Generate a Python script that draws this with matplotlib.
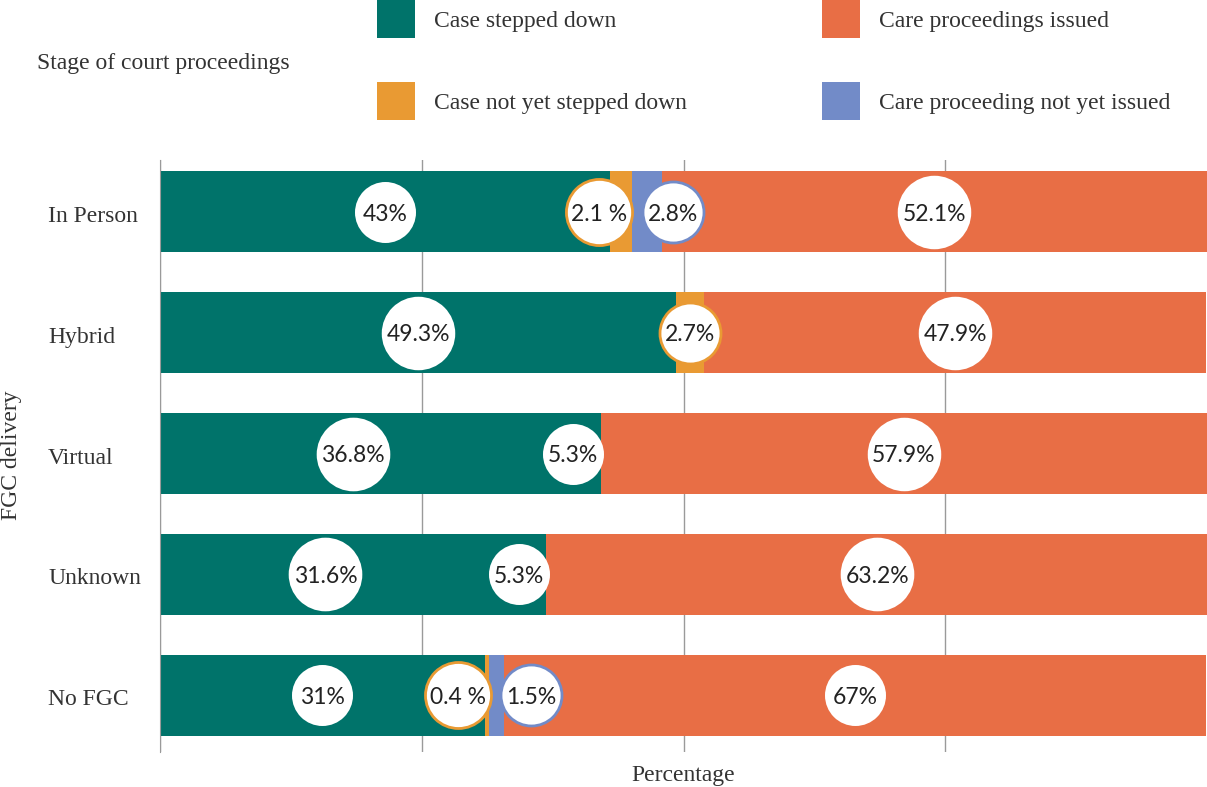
import matplotlib.pyplot as plt
from matplotlib.patches import Rectangle
from matplotlib.transforms import ScaledTranslation

# FGC delivery groups and the share of cases at each stage of court proceedings
groups = ["In Person", "Hybrid", "Virtual", "Unknown", "No FGC"]
stepped_down = [43, 49.3, 36.8, 31.6, 31]
stepped_down_extra = [0, 0, 5.3, 5.3, 0]
not_yet_stepped = [2.1, 2.7, 0, 0, 0.4]
not_yet_issued = [2.8, 0, 0, 0, 1.5]
issued = [52.1, 47.9, 57.9, 63.2, 67]
not_yet_stepped_sep = [" ", "", "", "", " "]

teal = "#00736A"
orange = "#E99A33"
blue = "#728BC8"
red = "#E86E45"
grid_c = "#9a9a9a"
txt_c = "#333333"
serif = "Liberation Serif"
sans = "Lato"
fs = 17

fig = plt.figure(figsize=(12.07, 7.87), dpi=100)
ax = fig.add_axes([160 / 1207, 35 / 787, 1047 / 1207, 592 / 787])

series = [
    (stepped_down, teal, None, None),
    (stepped_down_extra, teal, None, None),
    (not_yet_stepped, orange, orange, not_yet_stepped_sep),
    (not_yet_issued, blue, blue, None),
    (issued, red, None, None),
]

ypos = list(range(len(groups)))
left = [0.0] * len(groups)
labels = []
for vals, col, edge, seps in series:
    ax.barh(ypos, vals, left=left, height=0.67, color=col, linewidth=0, zorder=2)
    for i, v in enumerate(vals):
        if v > 0:
            sep = seps[i] if seps else ""
            labels.append([left[i] + v / 2, i, f"{v:g}{sep}%", edge, col])
    left = [l + v for l, v in zip(left, vals)]

# push apart labels of two neighbouring thin segments
for i in ypos:
    if not_yet_stepped[i] > 0 and not_yet_issued[i] > 0:
        start = stepped_down[i] + stepped_down_extra[i]
        mid = start + (not_yet_stepped[i] + not_yet_issued[i]) / 2
        for lab in labels:
            if lab[1] == i and lab[4] == orange:
                lab[0] = mid - 3.5
            elif lab[1] == i and lab[4] == blue:
                lab[0] = mid + 3.5

ax.set_xlim(0, 100)
ax.set_ylim(4.47, -0.43)

texts = []
for x, y, s, edge, col in labels:
    texts.append(ax.annotate(s, (x, y), xytext=(0, -1.5), textcoords="offset points",
                             ha="center", va="center", fontsize=16.5,
                             family=sans, color="#222222", zorder=5))

# white circle behind each label, sized to its text
fig.canvas.draw()
r = fig.canvas.get_renderer()
for t, (x, y, s, edge, col) in zip(texts, labels):
    w = t.get_window_extent(r).width
    d_pt = max(61, w + 10) * 72 / fig.dpi
    ax.scatter([x], [y], s=d_pt ** 2, facecolor="white",
               edgecolor=edge if edge else "white",
               linewidth=2 if edge else 0, zorder=4)

ax.set_xticks([0, 25, 50, 75])
ax.set_xticklabels([])
ax.tick_params(axis="x", length=0)
ax.grid(axis="x", color=grid_c, lw=1, zorder=0)
ax.set_yticks(ypos)
ax.set_yticklabels(groups, fontsize=fs, family=serif, color=txt_c)
ax.tick_params(axis="y", length=0, pad=0)
off = ScaledTranslation(-112 / 100, -2 / 100, fig.dpi_scale_trans)
for t in ax.get_yticklabels():
    t.set_horizontalalignment("left")
    t.set_transform(t.get_transform() + off)
for s in ["top", "right", "bottom"]:
    ax.spines[s].set_visible(False)
ax.spines["left"].set_color(grid_c)

ax.set_xlabel("Percentage", fontsize=fs, family=serif, color=txt_c, labelpad=6)
fig.text(12 / 1207, 1 - 455 / 787, "FGC delivery", rotation=90, ha="center",
         va="center", fontsize=fs, family=serif, color=txt_c)

# legend drawn in figure pixels
legend_items = [
    ("Case stepped down", teal, 377, 0),
    ("Case not yet stepped down", orange, 377, 82),
    ("Care proceedings issued", red, 822, 0),
    ("Care proceeding not yet issued", blue, 822, 82),
]
W, H = 1207, 787
for name, col, px, py in legend_items:
    fig.add_artist(Rectangle((px / W, 1 - (py + 38) / H), 38 / W, 38 / H,
                             transform=fig.transFigure, color=col, lw=0))
    fig.text((px + 57) / W, 1 - (py + 22) / H, name, ha="left", va="center",
             fontsize=fs, family=serif, color=txt_c)
fig.text(37 / W, 1 - 63 / H, "Stage of court proceedings", ha="left",
         va="center", fontsize=fs, family=serif, color=txt_c)

fig.savefig("out.png", dpi=100, facecolor="white")
